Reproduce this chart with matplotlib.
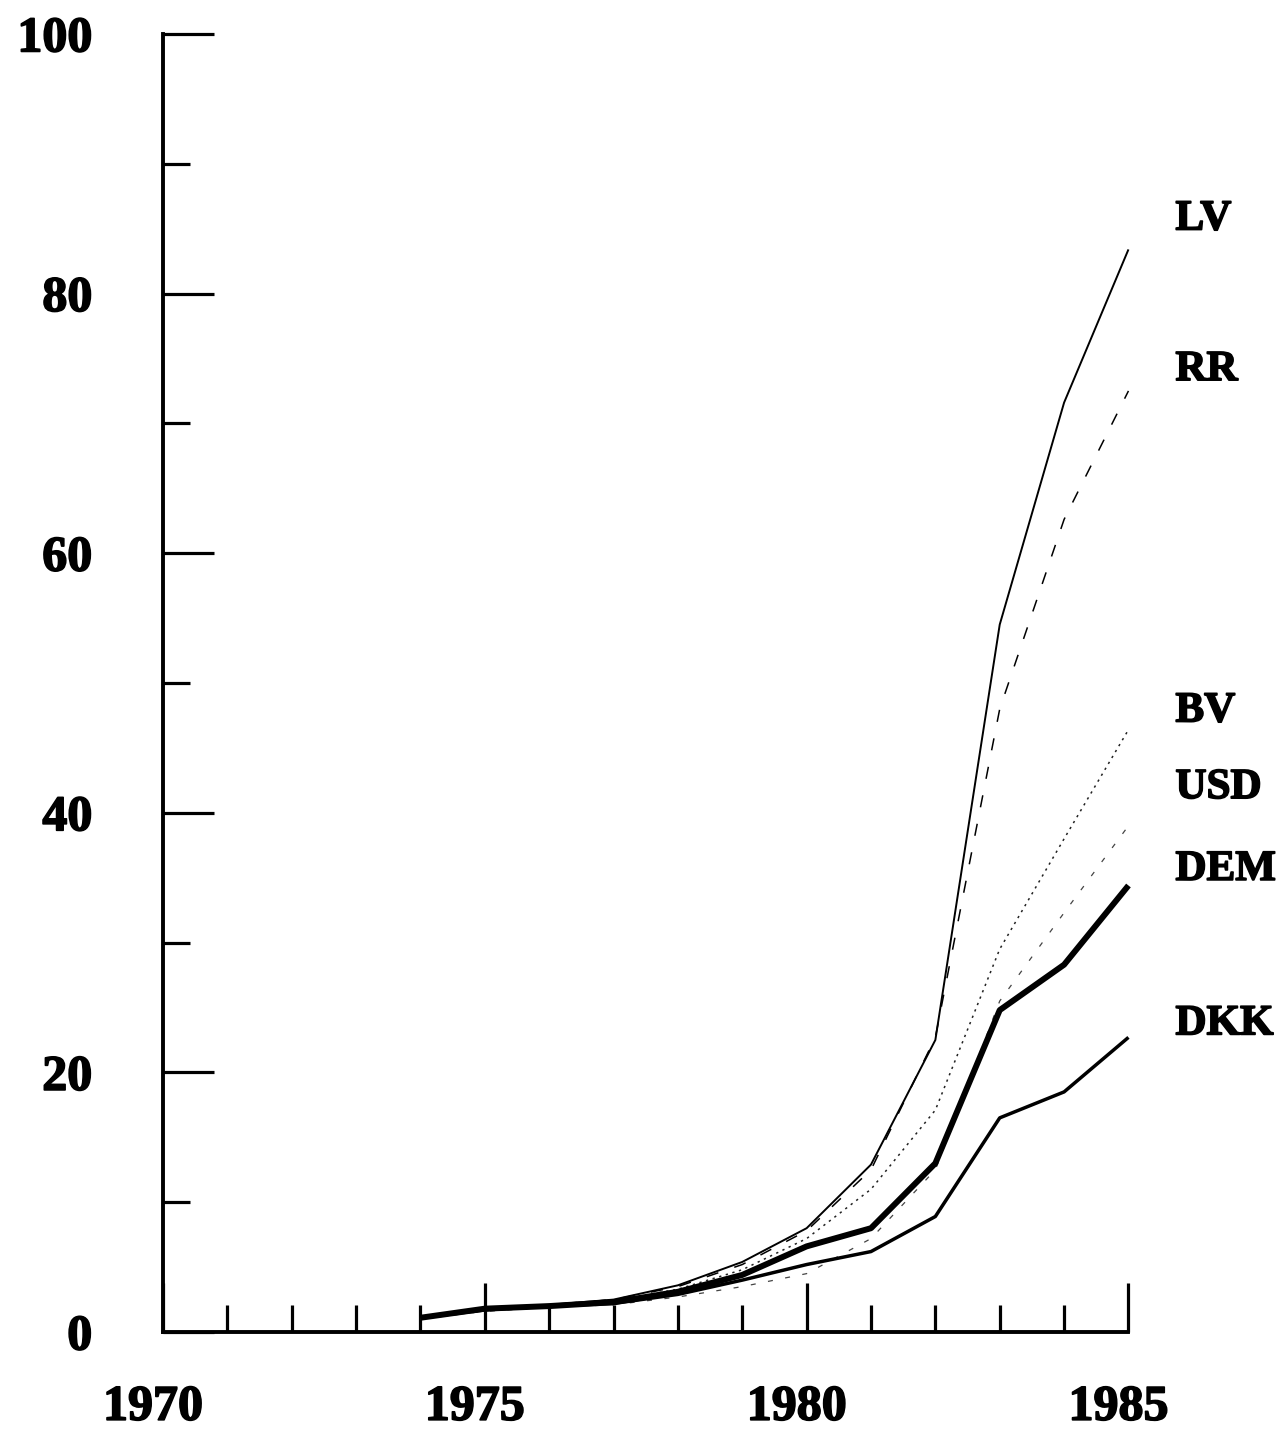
import matplotlib
matplotlib.use("Agg")
import matplotlib.pyplot as plt
import matplotlib.patheffects as pe
from matplotlib.ticker import MultipleLocator
from matplotlib.transforms import ScaledTranslation

# ---- data ----
years = [1974, 1975, 1976, 1977, 1978, 1979, 1980, 1981, 1982, 1983, 1984, 1985]
LV  = [1.1, 1.8, 2.1, 2.5, 3.6, 5.4, 8.0, 12.9, 22.5, 54.5, 71.6, 83.4]
RR  = [1.1, 1.8, 2.1, 2.5, 3.5, 5.2, 7.8, 12.5, 22.7, 48.0, 62.6, 72.5]
BV  = [1.1, 1.8, 2.1, 2.4, 3.3, 4.8, 7.2, 11.0, 17.1, 29.5, 38.0, 46.4]
USD = [1.0, 1.6, 1.9, 2.1, 2.7, 3.5, 4.5, 7.2, 12.5, 25.5, 32.3, 39.0]
DEM = [1.1, 1.8, 2.0, 2.3, 3.1, 4.4, 6.6, 8.0, 13.0, 24.8, 28.3, 34.4]
DKK = [1.1, 1.7, 2.0, 2.2, 2.9, 4.0, 5.2, 6.2, 8.9, 16.5, 18.5, 22.7]
series_names = ["LV", "RR", "BV", "USD", "DEM", "DKK"]
x_tick_labels = ["1970", "1975", "1980", "1985"]
y_tick_labels = ["0", "20", "40", "60", "80", "100"]

# ---- layout / style ----
TICK_FONT = dict(family="Liberation Serif", weight="bold", size=36)
LABEL_FONT = dict(family="Liberation Serif", weight="bold", size=31)
heavy = [pe.withStroke(linewidth=1.2, foreground="black")]
styles = {
    "LV":  dict(lw=1.4, ls="-", color="black"),
    "RR":  dict(lw=1.1, ls=(0, (8, 11)), color="black"),
    "BV":  dict(lw=1.1, ls=(0, (1.5, 3)), color="#222222"),
    "USD": dict(lw=0.9, ls=(0, (4, 10)), color="#444444"),
    "DEM": dict(lw=4.3, ls="-", color="black"),
    "DKK": dict(lw=2.5, ls="-", color="black"),
}
label_y = {"LV": 85.7, "RR": 74.1, "BV": 47.8, "USD": 41.9, "DEM": 35.6, "DKK": 23.7}
label_x = 1985.73

fig = plt.figure(figsize=(12.79, 14.32), dpi=100)
ax = fig.add_axes([0.1274, 0.0698, 0.8823 - 0.1274, 0.9763 - 0.0698])

data = {"LV": LV, "RR": RR, "BV": BV, "USD": USD, "DEM": DEM, "DKK": DKK}
for name in series_names:
    st = styles[name]
    ax.plot(years, data[name], linewidth=st["lw"], linestyle=st["ls"],
            color=st["color"], solid_capstyle="butt", dash_capstyle="butt",
            clip_on=False)
    ax.text(label_x, label_y[name], name, ha="left", va="center",
            clip_on=False, path_effects=heavy, **LABEL_FONT)

ax.set_xlim(1970, 1985)
ax.set_ylim(0, 100)
for s in ("top", "right"):
    ax.spines[s].set_visible(False)
for s in ("left", "bottom"):
    ax.spines[s].set_linewidth(2.8)
    ax.spines[s].set_capstyle("projecting")

ax.set_xticks([1970, 1975, 1980, 1985])
ax.set_xticklabels(x_tick_labels)
ax.xaxis.set_minor_locator(MultipleLocator(1))
ax.set_yticks([0, 20, 40, 60, 80, 100])
ax.set_yticklabels(y_tick_labels)
ax.yaxis.set_minor_locator(MultipleLocator(10))

ax.tick_params(axis="x", which="major", direction="in", length=35, width=2.3, pad=38)
ax.tick_params(axis="x", which="minor", direction="in", length=19.5, width=2.3)
ax.tick_params(axis="y", which="major", direction="in", length=37, width=2.3, pad=51)
ax.tick_params(axis="y", which="minor", direction="in", length=19.5, width=2.3)
shift = ScaledTranslation(-10 / 100, 0, fig.dpi_scale_trans)
for lab in ax.get_xticklabels():
    lab.set_transform(lab.get_transform() + shift)
for lab in ax.get_xticklabels() + ax.get_yticklabels():
    lab.set_fontfamily(TICK_FONT["family"])
    lab.set_fontweight(TICK_FONT["weight"])
    lab.set_fontsize(TICK_FONT["size"])
    lab.set_path_effects(heavy)

fig.savefig("out.png", dpi=100, facecolor="white")
